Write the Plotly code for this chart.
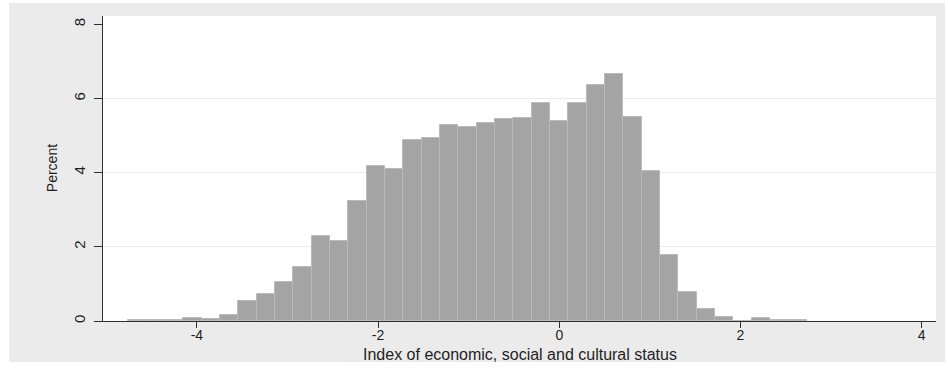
import plotly.graph_objects as go

# Histogram bins (centres, in index units) and bar heights (percent)
bin_centers = [-4.655, -4.452, -4.250, -4.048, -3.845, -3.643, -3.441, -3.239,
               -3.036, -2.834, -2.632, -2.430, -2.227, -2.025, -1.823, -1.620,
               -1.418, -1.216, -1.014, -0.811, -0.609, -0.407, -0.204, -0.002,
               0.200, 0.403, 0.605, 0.807, 1.010, 1.212, 1.414, 1.616,
               1.819, 2.021, 2.223, 2.425, 2.628]
percent = [0.015, 0.015, 0.02, 0.07, 0.05, 0.15, 0.53, 0.72,
           1.06, 1.46, 2.28, 2.17, 3.24, 4.18, 4.09, 4.87,
           4.94, 5.29, 5.24, 5.35, 5.45, 5.47, 5.87, 5.39,
           5.87, 6.36, 6.66, 5.50, 4.05, 1.79, 0.77, 0.33,
           0.11, 0.01, 0.08, 0.035, 0.02]
bin_width = 0.2023

x_ticks = [-4, -2, 0, 2, 4]
x_ticktext = ["-4", "-2", "0", "2", "4"]
y_ticks = [0, 2, 4, 6, 8]
y_ticktext = ["0", "2", "4", "6", "8"]
grid_vals = [2, 4, 6]

x_title = "Index of economic, social and cultural status"
y_title = "Percent"

FONT = "Liberation Sans, Arial, Helvetica, sans-serif"
AXIS = "#303030"
TEXT = "#1e1e1e"

fig = go.Figure()
fig.add_trace(go.Bar(
    x=bin_centers, y=percent, width=bin_width,
    marker=dict(color="#a4a4a4", line=dict(color="#bababa", width=1)),
    hoverinfo="x+y", showlegend=False,
))
# helper trace to create the grid overlay axis
fig.add_trace(go.Scatter(x=[], y=[], yaxis="y2", showlegend=False))

fig.update_layout(
    width=948, height=372,
    margin=dict(l=103, r=12, t=16, b=51),
    paper_bgcolor="white",
    plot_bgcolor="rgba(0,0,0,0)",
    bargap=0,
    font=dict(family=FONT, color=TEXT),
    xaxis=dict(
        range=[-5.036, 4.158], tickmode="array", tickvals=x_ticks, ticktext=x_ticktext,
        ticks="outside", ticklen=6, tickwidth=1.3, tickcolor=AXIS,
        showline=True, linecolor=AXIS, linewidth=1.3,
        showgrid=False, zeroline=False, ticklabelstandoff=-5,
        tickfont=dict(size=14, color=TEXT),
    ),
    yaxis=dict(
        range=[0, 8.225], tickmode="array", tickvals=y_ticks, ticktext=y_ticktext,
        tickangle=-90, ticklabelstandoff=3,
        ticks="outside", ticklen=8, tickwidth=1.3, tickcolor=AXIS,
        showline=True, linecolor=AXIS, linewidth=1.3,
        showgrid=False, zeroline=False,
        tickfont=dict(size=15, color=TEXT),
    ),
    yaxis2=dict(
        overlaying="y", anchor="x", range=[0, 8.225],
        tickmode="array", tickvals=grid_vals,
        showticklabels=False, ticks="", showline=False, zeroline=False,
        showgrid=True, gridcolor="#ebebeb", gridwidth=1,
    ),
    shapes=[
        dict(type="rect", xref="paper", yref="paper",
             x0=-0.1128, x1=1.0108, y0=-0.1344, y1=1.0426,
             fillcolor="#ebebeb", line=dict(width=0), layer="below"),
        dict(type="rect", xref="paper", yref="paper",
             x0=0, x1=1, y0=0, y1=1,
             fillcolor="white", line=dict(width=0), layer="below"),
    ],
    annotations=[
        dict(text=x_title, xref="paper", yref="paper", x=0.5, y=-0.1082,
             xanchor="center", yanchor="middle", showarrow=False,
             font=dict(size=16, color=TEXT, family=FONT)),
        dict(text=y_title, xref="paper", yref="paper", x=-0.0616, y=0.5,
             xanchor="center", yanchor="middle", showarrow=False, textangle=-90,
             font=dict(size=14, color=TEXT, family=FONT)),
    ],
)

fig.write_html("out.html")
